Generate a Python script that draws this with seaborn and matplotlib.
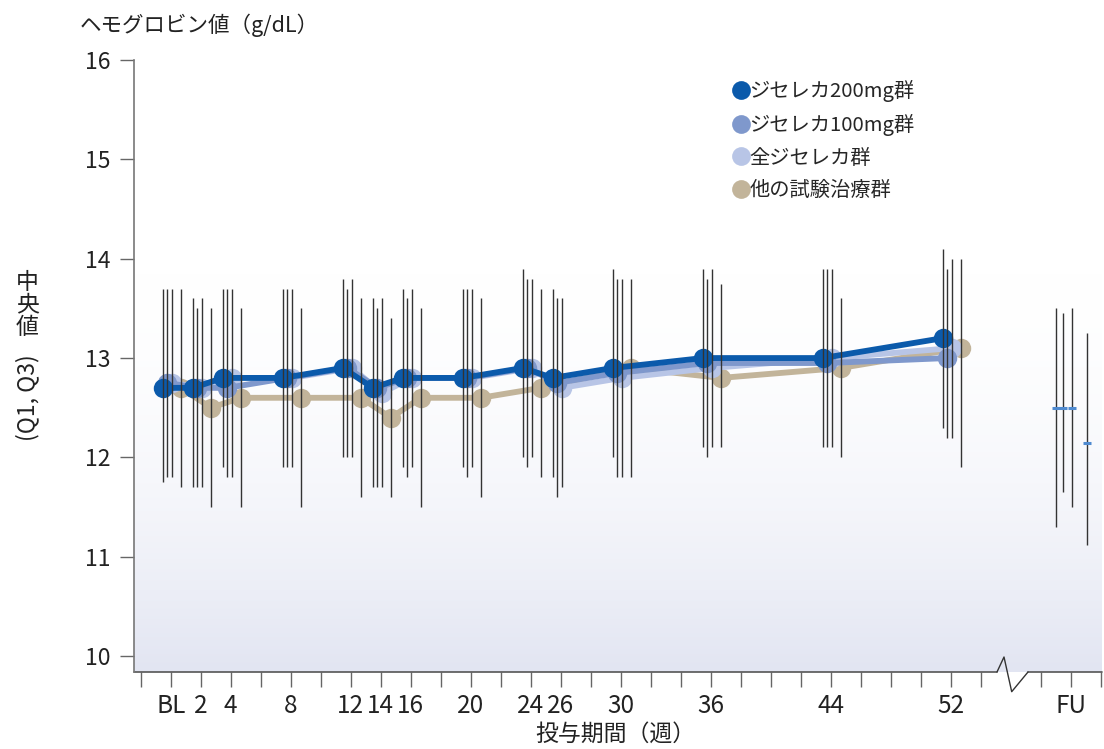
import numpy as np
import pandas as pd
import matplotlib
matplotlib.use("Agg")
import matplotlib.pyplot as plt
import seaborn as sns
from matplotlib.colors import LinearSegmentedColormap
from matplotlib.lines import Line2D

# ---- data ----
weeks = [0, 2, 4, 8, 12, 14, 16, 20, 24, 26, 30, 36, 44, 52]
weeks_other = [0, 2, 4, 8, 12, 14, 16, 20, 24, 30, 36, 44, 52]

med_200 = [12.7, 12.7, 12.8, 12.8, 12.9, 12.7, 12.8, 12.8, 12.9, 12.8, 12.9, 13.0, 13.0, 13.2]
q1_200 = [11.75, 11.7, 11.9, 11.9, 12.0, 11.7, 11.9, 11.9, 12.0, 11.8, 12.0, 12.1, 12.1, 12.3]
q3_200 = [13.7, 13.6, 13.7, 13.7, 13.8, 13.6, 13.7, 13.7, 13.9, 13.7, 13.9, 13.9, 13.9, 14.1]

med_100 = [12.75, 12.7, 12.7, 12.8, 12.9, 12.7, 12.8, 12.8, 12.9, 12.75, 12.85, 12.95, 12.95, 13.0]
q1_100 = [11.8, 11.7, 11.8, 11.9, 12.0, 11.7, 11.8, 11.8, 11.9, 11.6, 11.8, 12.0, 12.1, 12.2]
q3_100 = [13.7, 13.5, 13.7, 13.7, 13.7, 13.5, 13.6, 13.7, 13.8, 13.6, 13.8, 13.8, 13.9, 13.9]

med_all = [12.75, 12.7, 12.8, 12.8, 12.9, 12.65, 12.8, 12.8, 12.9, 12.7, 12.8, 12.9, 13.0, 13.1]
q1_all = [11.8, 11.7, 11.8, 11.9, 12.0, 11.7, 11.9, 11.9, 12.0, 11.7, 11.8, 12.1, 12.1, 12.2]
q3_all = [13.7, 13.6, 13.7, 13.7, 13.8, 13.6, 13.7, 13.7, 13.8, 13.6, 13.8, 13.9, 13.9, 14.0]

med_oth = [12.7, 12.5, 12.6, 12.6, 12.6, 12.4, 12.6, 12.6, 12.7, 12.9, 12.8, 12.9, 13.1]
q1_oth = [11.7, 11.5, 11.5, 11.5, 11.6, 11.6, 11.5, 11.6, 11.8, 11.8, 12.1, 12.0, 11.9]
q3_oth = [13.7, 13.5, 13.5, 13.5, 13.6, 13.4, 13.5, 13.6, 13.7, 13.8, 13.75, 13.6, 14.0]

# follow-up visit (plotted at week 60 after the axis break)
fu_week = 60
fu_med = [12.5, 12.5, 12.5, 12.15]
fu_q1 = [11.3, 11.65, 11.5, 11.12]
fu_q3 = [13.5, 13.45, 13.5, 13.25]

groups = ["ジセレカ200mg群", "ジセレカ100mg群", "全ジセレカ群", "他の試験治療群"]
colors = ["#0b5aab", "#7f98cc", "#b8c5e6", "#c2b49a"]

tick_labels = {0: "BL", 2: "2", 4: "4", 8: "8", 12: "12", 14: "14", 16: "16",
               20: "20", 24: "24", 26: "26", 30: "30", 36: "36", 44: "44",
               52: "52", 60: "FU"}

# small horizontal dodge (weeks) so the groups don't sit on each other
dodge = [-0.52, -0.22, 0.08, 0.68]
dodge_fu = [-0.96, -0.47, 0.07, 1.1]

# ---- build long table ----
rows = []
series = [(weeks, med_200, q1_200, q3_200),
          (weeks, med_100, q1_100, q3_100),
          (weeks, med_all, q1_all, q3_all),
          (weeks_other, med_oth, q1_oth, q3_oth)]
for g, (wk, med, q1, q3), d in zip(groups, series, dodge):
    for w, m, a, b in zip(wk, med, q1, q3):
        rows.append({"group": g, "week": w, "x": w + d, "median": m, "q1": a, "q3": b})
df = pd.DataFrame(rows)

fu_df = pd.DataFrame({"group": groups,
                      "x": [fu_week + d for d in dodge_fu],
                      "median": fu_med, "q1": fu_q1, "q3": fu_q3})

# ---- figure ----
sns.set_style("white")
plt.rcParams["font.family"] = ["Noto Sans CJK JP", "DejaVu Sans"]

W, H = 1104, 749
fig = plt.figure(figsize=(W / 100, H / 100), dpi=100)
ax_l, ax_r, ax_t, ax_b = 134, 1102, 60, 672
ax = fig.add_axes([ax_l / W, 1 - ax_b / H, (ax_r - ax_l) / W, (ax_b - ax_t) / H])

xmin, xmax = -2.45, 62.1
ymin, ymax = 9.84, 16.0

# background gradient
grad = np.linspace(0, 1, 256) ** 2.0
cmap = LinearSegmentedColormap.from_list("bg", ["#ffffff", "#e2e5f2"])
ax.imshow(grad[::-1].reshape(-1, 1), extent=[xmin, xmax, ymin, 14.1],
          aspect="auto", cmap=cmap, origin="lower", zorder=0, vmin=0, vmax=1)

# lines + markers (back to front)
for i in [3, 2, 1, 0]:
    sub = df[df["group"] == groups[i]]
    sns.lineplot(data=sub, x="x", y="median", color=colors[i], lw=4.2,
                 marker="o", markersize=14, markeredgewidth=0,
                 ax=ax, legend=False, zorder=3 + (3 - i), sort=True)

# Q1-Q3 ranges
ax.vlines(df["x"], df["q1"], df["q3"], color="#333333", lw=1.0, zorder=10)
ax.vlines(fu_df["x"], fu_df["q1"], fu_df["q3"], color="#333333", lw=1.0, zorder=10)
ax.scatter(fu_df["x"], fu_df["median"], marker="_", s=40, linewidths=2.2,
           color="#4f8ad0", zorder=11)

ax.set_xlim(xmin, xmax)
ax.set_ylim(ymin, ymax)

# ticks
xt = [w for w in range(-2, 63, 2) if w != 56]
ax.set_xticks(xt, [tick_labels.get(w, "") for w in xt])
ax.set_yticks(range(10, 17))
ax.tick_params(axis="x", direction="out", length=11, width=1, color="#666666",
               labelsize=17.5, pad=4, bottom=True, labelcolor="#222222")
ax.tick_params(axis="y", direction="out", length=10, width=1, color="#666666",
               labelsize=16.5, pad=7, left=True, labelcolor="#222222")

for s in ["top", "right", "bottom"]:
    ax.spines[s].set_visible(False)
ax.spines["left"].set_color("#777777")
ax.spines["left"].set_linewidth(1.2)

# broken bottom axis
bx0 = (997 - ax_l) / (ax_r - ax_l)
bx1 = (1028 - ax_l) / (ax_r - ax_l)
ax.plot([0, bx0], [0, 0], transform=ax.transAxes, color="#555555", lw=1.2, clip_on=False)
ax.plot([bx1, 1], [0, 0], transform=ax.transAxes, color="#555555", lw=1.2, clip_on=False)
zz_x = [bx0, (1004 - ax_l) / (ax_r - ax_l), (1011.7 - ax_l) / (ax_r - ax_l), bx1]
zz_y = [0, 15 / (ax_b - ax_t), -19.7 / (ax_b - ax_t), 0]
ax.plot(zz_x, zz_y, transform=ax.transAxes, color="#333333", lw=1.0, clip_on=False)

ax.set_xlabel("")
ax.set_ylabel("")

# labels
fig.text(80 / W, 1 - 25 / H, "ヘモグロビン値（g/dL）", fontsize=15.5, ha="left", va="center",
         color="#222222")
fig.text(615 / W, 1 - 734 / H, "投与期間（週）", fontsize=16.5, ha="center", va="center",
         color="#222222")
fig.text(27 / W, 1 - 305 / H, "中\n央\n値", fontsize=16.5, ha="center", va="center",
         linespacing=0.98, color="#222222")
fig.text(27 / W, 1 - 398 / H, "(Q1, Q3)", fontsize=16.5, ha="center", va="center",
         rotation=90, color="#222222")

# legend
handles = [Line2D([], [], marker="o", ls="", ms=13.5, mew=0, color=c) for c in colors]
fig.legend(handles, groups, loc="upper left", bbox_to_anchor=(733 / W, 1 - 80 / H),
           frameon=False, fontsize=14.6, handlelength=0.75, handletextpad=0.05,
           labelspacing=0.58, borderpad=0, borderaxespad=0)

fig.savefig("out.png", dpi=100)
